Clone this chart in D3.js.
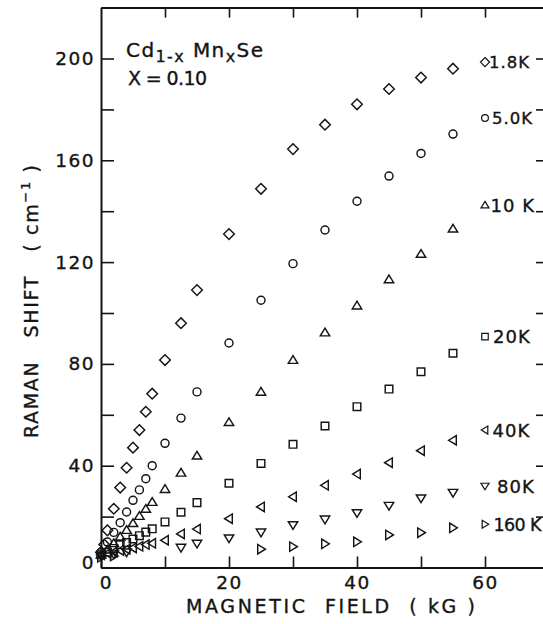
<!DOCTYPE html>
<html>
<head>
<meta charset="utf-8">
<script src="https://cdn.jsdelivr.net/npm/d3@7"></script>
<style>
  body { margin: 0; background: #fff; }
  svg { display: block; }
  text { font-family: "DejaVu Sans", "Liberation Sans", sans-serif; fill: #141414; stroke: #141414; stroke-width: 0.35; }
</style>
</head>
<body>
<svg id="chart" width="543" height="624"></svg>
<script>
// Raman shift (cm^-1) of Cd(1-x)Mn(x)Se, x = 0.10, versus magnetic field (kG)
const fields1p8K = [0, 0.5, 1, 2, 3, 4, 5, 6, 7, 8, 10, 12.5, 15, 20, 25, 30, 35, 40, 45, 50, 55];
const shift1p8K  = [6, 9, 14.6, 23.1, 31.4, 39.2, 47.1, 54, 61.2, 68.3, 81.5, 96, 109, 131, 148.8, 164.4, 174, 182, 188, 192.5, 196];

const fields5K = [0, 1, 2, 3, 4, 5, 6, 7, 8, 10, 12.5, 15, 20, 25, 30, 35, 40, 45, 50, 55];
const shift5K  = [6, 10, 13.8, 17.6, 21.8, 26.4, 30.5, 34.9, 40, 48.8, 58.7, 69, 88.2, 105, 119.4, 132.6, 143.9, 153.8, 162.7, 170.3];

const fields10K = [0, 1, 2, 3, 4, 5, 6, 7, 8, 10, 12.5, 15, 20, 25, 30, 35, 40, 45, 50, 55];
const shift10K  = [5, 7, 9.5, 12.1, 14.7, 17.4, 20.2, 23, 25.7, 30.8, 37.2, 43.9, 57.1, 69, 81.5, 92.3, 102.9, 113.2, 123.2, 133.1];

const fields20K = [0, 1, 2, 3, 4, 5, 6, 7, 8, 10, 12.5, 15, 20, 25, 30, 35, 40, 45, 50, 55];
const shift20K  = [5, 6, 7.5, 8.9, 9.8, 11.2, 12.5, 13.9, 15.2, 17.9, 21.7, 25.5, 33.1, 40.9, 48.4, 55.6, 63.2, 70.1, 76.9, 84.2];

const fields40K = [0, 1, 2, 3, 4, 5, 6, 7, 8, 10, 12.5, 15, 20, 25, 30, 35, 40, 45, 50, 55];
const shift40K  = [5, 5.6, 6.1, 6.7, 7.2, 7.7, 8.3, 9, 9.5, 10.7, 13.2, 15.1, 19.2, 23.8, 27.8, 32.3, 36.7, 41.2, 45.9, 50];

const fields80K = [0, 2, 4, 12.5, 15, 20, 25, 30, 35, 40, 45, 50, 55];
const shift80K  = [4.5, 5.2, 6, 7.8, 9.4, 11.5, 13.8, 16.7, 18.9, 21.4, 24.3, 27.2, 29.4];

const fields160K = [0, 2, 25, 30, 35, 40, 45, 50, 55];
const shift160K  = [4, 4.5, 7.2, 8.2, 9.3, 10.1, 12.8, 13.7, 15.6];

const temperatureLabels = ["1.8K", "5.0K", "10 K", "20K", "40K", "80K", "160 K"];
const xTickValues = [0, 10, 20, 30, 40, 50, 60, 70];
const xTickLabels = [0, 20, 40, 60];
const yTickValues = [0, 20, 40, 60, 80, 100, 120, 140, 160, 180, 200, 220];
const yTickLabels = [0, 40, 80, 120, 160, 200];

// layout of the temperature labels: marker field, marker height, text offset, text size
const legendField = 60;
const legendShift = [198.6, 176.6, 142.4, 90.7, 54, 32, 17];
const legendDx = [4, 7, 5.5, 8, 7.5, 12, 8.5];
const legendSize = [16.5, 16.5, 18, 18, 18, 18, 17.5];
const shapes = ["diamond", "circle", "triUp", "square", "triLeft", "triDown", "triRight"];

const series = [
  [fields1p8K, shift1p8K], [fields5K, shift5K], [fields10K, shift10K], [fields20K, shift20K],
  [fields40K, shift40K], [fields80K, shift80K], [fields160K, shift160K]
].map(([f, s], i) => ({
  label: temperatureLabels[i], shape: shapes[i], legendAt: legendShift[i],
  dx: legendDx[i], size: legendSize[i],
  points: f.map((b, j) => ({ b, v: s[j] }))
}));

const svg = d3.select("#chart");
const x = d3.scaleLinear().domain([0, 70]).range([101, 549]);
const y = d3.scaleLinear().domain([0, 220]).range([567.5, 7.6]);

function shapePath(kind) {
  switch (kind) {
    case "diamond":  return "M0,-5.3L5.3,0L0,5.3L-5.3,0Z";
    case "circle":   return d3.arc()({ innerRadius: 0, outerRadius: 4, startAngle: 0, endAngle: 2 * Math.PI });
    case "triUp":    return "M0,-4.4L4.7,3.3L-4.7,3.3Z";
    case "triDown":  return "M0,4.4L4.7,-3.3L-4.7,-3.3Z";
    case "triLeft":  return "M-4.4,0L3.3,-4.7L3.3,4.7Z";
    case "triRight": return "M4.4,0L-3.3,-4.7L-3.3,4.7Z";
    case "square":   return "M-3.8,-3.8h7.6v7.6h-7.6Z";
  }
}

// frame and axes
const axisStyle = g => {
  g.select(".domain").attr("stroke", "#141414").attr("stroke-width", 2);
  g.selectAll(".tick line").attr("stroke", "#141414").attr("stroke-width", 1.6);
  g.selectAll(".tick text").attr("fill", "#141414").attr("font-size", 18.5)
    .attr("font-family", "DejaVu Sans, sans-serif").attr("letter-spacing", 1.5);
};

svg.append("g").attr("transform", `translate(0,${y(0)})`)
  .call(d3.axisBottom(x).tickValues(xTickValues).tickSizeInner(-11).tickSizeOuter(0).tickPadding(8)
    .tickFormat(d => xTickLabels.includes(d) ? d : ""))
  .call(axisStyle)
  .call(g => g.selectAll(".tick text").filter(d => d === 0).attr("dx", 5));

svg.append("g").attr("transform", `translate(0,${y(220)})`)
  .call(d3.axisTop(x).tickValues(xTickValues.filter(d => d > 0 && d < 70)).tickSizeInner(-10).tickSizeOuter(0).tickFormat(""))
  .call(axisStyle);

svg.append("g").attr("transform", `translate(${x(0)},0)`)
  .call(d3.axisLeft(y).tickValues(yTickValues).tickSizeInner(-13).tickSizeOuter(0).tickPadding(6)
    .tickFormat(d => yTickLabels.includes(d) ? d : ""))
  .call(axisStyle)
  .call(g => g.selectAll(".tick text").filter(d => d === 0).attr("dy", "0.05em"));

svg.append("g").attr("transform", `translate(${x(70)},0)`)
  .call(d3.axisRight(y).tickValues(yTickValues.filter(d => d > 0 && d < 220)).tickSizeInner(-13).tickSizeOuter(0).tickFormat(""))
  .call(axisStyle);

// data points
const markStroke = g => g.attr("fill", "none").attr("stroke", "#141414").attr("stroke-width", 1.45);

series.forEach(s => {
  svg.append("g").call(markStroke)
    .selectAll("path").data(s.points).join("path")
    .attr("d", shapePath(s.shape))
    .attr("transform", d => `translate(${x(d.b)},${y(d.v)})`);
});

// temperature labels on the right
const legend = svg.append("g").selectAll("g").data(series).join("g")
  .attr("transform", d => `translate(${x(legendField)},${y(d.legendAt)})`);
legend.append("path").attr("d", d => shapePath(d.shape)).call(markStroke).attr("transform", "scale(0.85)");
legend.append("text").attr("x", d => d.dx).attr("y", 0).attr("dy", "0.36em")
  .attr("font-size", d => d.size).attr("letter-spacing", d => d.label.length > 4 ? -0.6 : 1)
  .style("white-space", "pre").text(d => d.label);

// composition annotation
const comp = svg.append("text").attr("x", 126).attr("y", 57).attr("font-size", 20)
  .attr("textLength", 137).attr("lengthAdjust", "spacing");
comp.append("tspan").text("Cd");
comp.append("tspan").attr("font-size", 16).attr("dy", 5).text("1-x");
comp.append("tspan").attr("dy", -5).text(" Mn");
comp.append("tspan").attr("font-size", 16).attr("dy", 5).text("x");
comp.append("tspan").attr("dy", -5).text("Se");
svg.append("text").attr("x", 128).attr("y", 85).attr("font-size", 19)
  .attr("textLength", 79).attr("lengthAdjust", "spacing")
  .style("white-space", "pre").text("X = 0.10");

// axis titles
svg.append("text").attr("x", 186).attr("y", 613).attr("font-size", 19)
  .attr("textLength", 289).attr("lengthAdjust", "spacing")
  .style("white-space", "pre").text("MAGNETIC  FIELD  ( kG )");

const yt = svg.append("text").attr("transform", "translate(38,438) rotate(-90)")
  .attr("font-size", 19).attr("textLength", 273).attr("lengthAdjust", "spacing")
  .style("white-space", "pre");
yt.append("tspan").text("RAMAN   SHIFT   ( cm");
yt.append("tspan").attr("font-size", 13).attr("dy", -8).text("−1");
yt.append("tspan").attr("dy", 8).text(" )");
</script>
</body>
</html>
